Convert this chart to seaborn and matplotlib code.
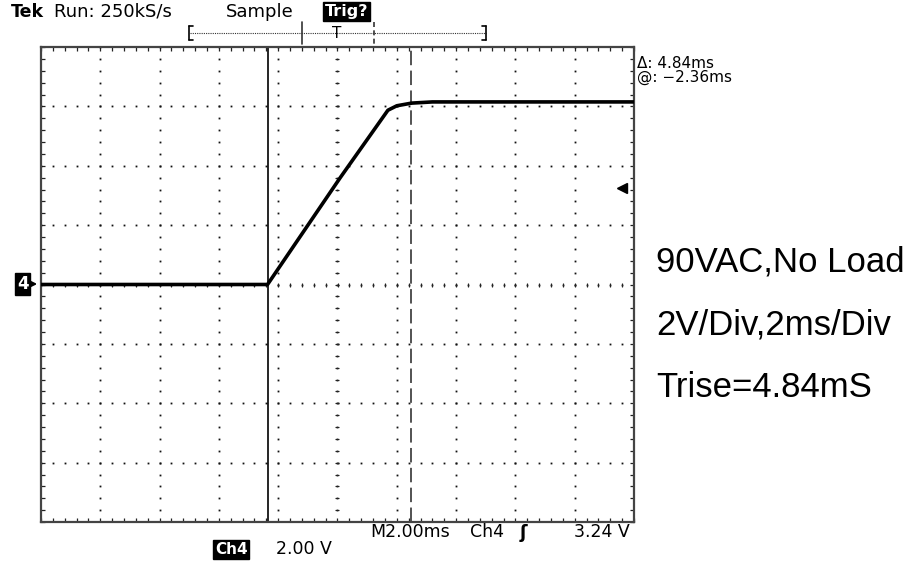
import matplotlib
matplotlib.use('Agg')
import matplotlib.pyplot as plt
import seaborn as sns
import numpy as np
import pandas as pd
from matplotlib.lines import Line2D

# ---- data ----
time_ms = [-10.0, -2.36, 0.1, 1.7, 2.0, 2.5, 3.2, 10.0]
volts = [0.0, 0.0, 3.61, 5.87, 6.02, 6.11, 6.15, 6.15]
cursor_ms = [-2.36, 2.48]
trig_level_v = 3.24
notes = ["90VAC,No Load", "2V/Div,2ms/Div", "Trise=4.84mS"]
header = ["Tek", "Run: 250kS/s", "Sample", "Trig?"]
readout = ["\u0394: 4.84ms", "@: \u22122.36ms"]
bottom_row = ["M2.00ms", "Ch4", "\u0283", "3.24 V"]
channel_row = ["Ch4", "2.00 V"]

sns.set_theme(style='white')
plt.rcParams['font.family'] = ['DejaVu Sans']
plt.rcParams['text.color'] = 'black'

W, H = 909, 561
fig = plt.figure(figsize=(W / 100, H / 100), dpi=100)
fig.patch.set_facecolor('white')


def fx(x):
    return x / W


def fy(y):
    return 1 - y / H


ax = fig.add_axes([fx(41), fy(522), 593 / W, 475 / H])
ax.set_facecolor('white')

# graticule: dotted major lines with dots every 0.2 division
ys = np.arange(-8, 8.001, 0.4)
xs = np.arange(-10, 10.001, 0.4)
for xv in np.arange(-8, 8.001, 2):
    ax.plot(np.full_like(ys, xv), ys, ls='none', marker='s', ms=1.3,
            color='#111', mew=0, zorder=1)
for yv in np.arange(-6, 6.001, 2):
    ax.plot(xs, np.full_like(xs, yv), ls='none', marker='s', ms=1.3,
            color='#111', mew=0, zorder=1)
# centre cross ticks
ax.plot(np.zeros_like(ys), ys, ls='none', marker='_', ms=3, mew=0.8,
        color='#222', zorder=1)
ax.plot(xs, np.zeros_like(xs), ls='none', marker='|', ms=3, mew=0.8,
        color='#222', zorder=1)

# cursors
ax.axvline(cursor_ms[0], color='black', lw=1.2, zorder=2)
ax.axvline(cursor_ms[1], color='#444', lw=1.3, dashes=(8, 3), zorder=2)

# trace
df = pd.DataFrame({'t': time_ms, 'v': volts})
sns.lineplot(data=df, x='t', y='v', ax=ax, color='black', lw=2.6, zorder=3)

# trigger level arrow
ax.plot([9.6], [trig_level_v], marker='<', ms=7, color='black', zorder=4)

ax.set_xlim(-10, 10)
ax.set_ylim(-8, 8)
ax.set_xlabel('')
ax.set_ylabel('')
ax.set_xticks(np.arange(-10, 10.001, 2))
ax.set_yticks(np.arange(-8, 8.001, 2))
ax.set_xticks(np.arange(-10, 10.001, 0.4), minor=True)
ax.set_yticks(np.arange(-8, 8.001, 0.4), minor=True)
ax.tick_params(which='both', direction='in', top=True, right=True,
               bottom=True, left=True, length=3, width=0.9, color='#222',
               labelbottom=False, labelleft=False)
for s in ax.spines.values():
    s.set_color('#444')
    s.set_linewidth(1.6)

# ---- header ----
fig.text(fx(11), fy(17), header[0], fontsize=12.5, fontweight='bold', va='baseline')
fig.text(fx(54), fy(17), header[1], fontsize=13, fontweight='medium', va='baseline')
fig.text(fx(226), fy(17), header[2], fontsize=13, fontweight='medium', va='baseline')
fig.text(fx(325), fy(16), header[3], fontsize=11.5, fontweight='bold', color='white',
         va='baseline', bbox=dict(boxstyle='square,pad=0.12', fc='black', ec='black'))

# record bar
def fline(x0, y0, x1, y1, **kw):
    fig.add_artist(Line2D([fx(x0), fx(x1)], [fy(y0), fy(y1)],
                          transform=fig.transFigure, **kw))

fline(190, 33, 486, 33, color='#333', lw=0.8, dashes=(1, 1))
fline(189, 26, 189, 40, color='black', lw=1.2)
fline(189, 26, 193, 26, color='black', lw=1.2)
fline(189, 40, 193, 40, color='black', lw=1.2)
fline(486, 26, 486, 40, color='black', lw=1.2)
fline(482, 26, 486, 26, color='black', lw=1.2)
fline(482, 40, 486, 40, color='black', lw=1.2)
fline(302, 22, 302, 44, color='#333', lw=1.2)
fline(374, 22, 374, 44, color='#333', lw=1.2, dashes=(3, 2))
fig.text(fx(337), fy(38), "T", fontsize=11, ha='center', va='baseline')

# ---- right readouts ----
fig.text(fx(637), fy(68), readout[0], fontsize=11, va='baseline')
fig.text(fx(637), fy(82), readout[1], fontsize=11, va='baseline')

# ground marker
fig.text(fx(17), fy(289), "4", fontsize=12, fontweight='bold', color='white',
         va='baseline', bbox=dict(boxstyle='square,pad=0.1', fc='black', ec='black'))
fig.add_artist(matplotlib.patches.FancyArrowPatch(
    (fx(28), fy(284)), (fx(40), fy(284)), transform=fig.transFigure,
    arrowstyle='-|>', mutation_scale=9, color='black', lw=1.5))

# ---- bottom readouts ----
fig.text(fx(370), fy(537), bottom_row[0], fontsize=12.5, va='baseline')
fig.text(fx(470), fy(537), bottom_row[1], fontsize=12.5, va='baseline')
fig.text(fx(520), fy(538), bottom_row[2], fontsize=13, va='baseline', fontweight='bold')
fig.text(fx(630), fy(537), bottom_row[3], fontsize=12.5, va='baseline', ha='right')
fig.text(fx(215), fy(554), channel_row[0], fontsize=11, fontweight='bold', color='white',
         va='baseline', bbox=dict(boxstyle='square,pad=0.12', fc='black', ec='black'))
fig.text(fx(276), fy(554), channel_row[1], fontsize=12.5, va='baseline')

# ---- notes ----
for i, s in enumerate(notes):
    fig.text(fx(656), fy(272 + 62.5 * i), s, fontsize=25, color='black',
             family=['Liberation Sans', 'DejaVu Sans'], va='baseline')

fig.savefig('out.png', dpi=100, facecolor='white')
